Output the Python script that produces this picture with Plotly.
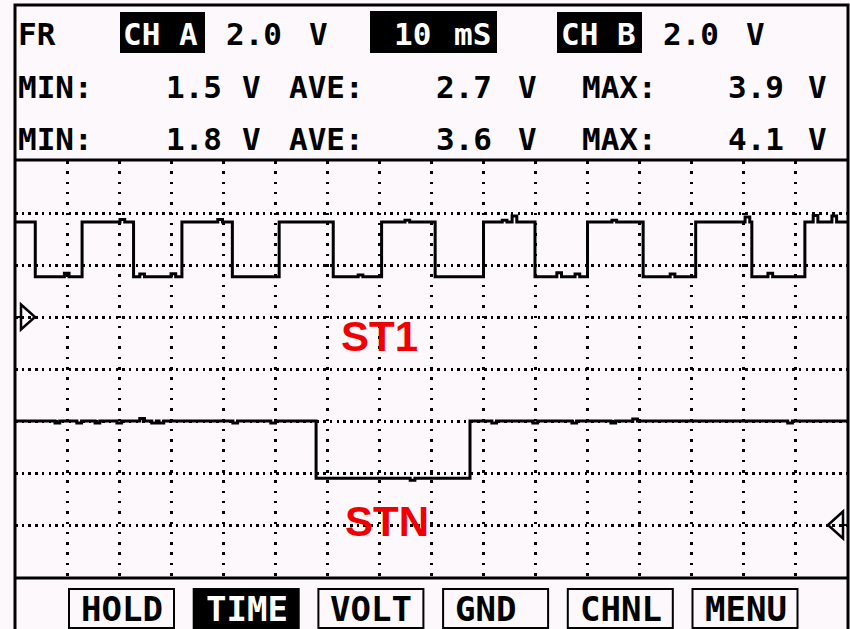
"""
plot.py — scope capture: CH A square wave (ST1) and CH B single pulse (STN).
"""
import plotly.graph_objects as go

# ── Data ─────────────────────────────────────────────────────────────────────
# time base 10 mS/div, 16 divisions; both channels 2.0 V/div
T_END = 160.0

# CH A (ST1): edge times in ms, starts high
A_EDGES = [3.9, 12.9, 22.8, 32.1, 41.8, 50.8, 61.2, 70.5,
           80.8, 90.1, 100.0, 110.1, 120.8, 130.9, 141.7, 151.9]
A_HIGH, A_LOW = 3.65, 1.55
A_GLITCH_T = [9.5, 20.2, 24.0, 30.0, 39.0, 66.0, 75.0, 93.7, 95.6,
              104.2, 107.7, 114.8, 126.0, 140.4, 144.8, 153.5, 157.1]
A_GLITCH_V = [1.68, 3.75, 1.65, 1.66, 3.75, 1.62, 3.72, 3.72, 3.88,
              1.70, 1.65, 3.72, 1.65, 3.85, 1.68, 3.90, 3.88]

# CH B (STN): starts high, one low pulse
B_EDGES = [57.9, 87.5]
B_HIGH, B_LOW = 4.0, 1.8
B_GLITCH_T = [7.7, 11.9, 15.4, 19.6, 24.0, 26.3, 27.7, 41.9, 49.2,
              76.0, 91.7, 99.6, 107.1, 114.6, 118.8, 148.6]
B_GLITCH_V = [3.92, 3.92, 3.92, 3.92, 4.10, 3.92, 3.92, 3.92, 3.92,
              1.72, 3.92, 3.92, 3.92, 3.92, 4.08, 3.92]

CH_A_STATS = [1.5, 2.7, 3.9]   # MIN, AVE, MAX
CH_B_STATS = [1.8, 3.6, 4.1]
VOLTS_DIV = [2.0, 2.0]
GROUND_V = 0.0
TIME_DIV = "10 mS"
BUTTONS = ["HOLD", "TIME", "VOLT", "GND", "CHNL", "MENU"]
ACTIVE_BUTTON = "TIME"

# ── Style ────────────────────────────────────────────────────────────────────
W, H = 850, 629
BG = "#FCF8FC"
INK = "#000000"
LCD_FONT = "DejaVu Sans Mono"


def px(x):
    return x / W


def py(y):
    return 1 - y / H


def level_at(t, edges, hi, lo):
    n = sum(1 for e in edges if e <= t)
    return hi if n % 2 == 0 else lo


def build_wave(edges, hi, lo, g_t, g_v, width=0.9):
    pts = [(0.0, hi)]
    for i, e in enumerate(edges):
        pts.append((e, lo if i % 2 == 0 else hi))
    for t, v in zip(g_t, g_v):
        pts.append((t, v))
        pts.append((t + width, level_at(t, edges, hi, lo)))
    pts.sort(key=lambda p: p[0])
    pts.append((T_END, level_at(T_END, edges, hi, lo)))
    return [p[0] for p in pts], [p[1] for p in pts]


ta, va = build_wave(A_EDGES, A_HIGH, A_LOW, A_GLITCH_T, A_GLITCH_V)
tb, vb = build_wave(B_EDGES, B_HIGH, B_LOW, B_GLITCH_T, B_GLITCH_V)

fig = go.Figure()
fig.add_trace(go.Scatter(x=ta, y=va, mode="lines", line_shape="hv",
                         line=dict(color=INK, width=3), yaxis="y",
                         hoverinfo="skip"))
fig.add_trace(go.Scatter(x=tb, y=vb, mode="lines", line_shape="hv",
                         line=dict(color=INK, width=3), yaxis="y2",
                         hoverinfo="skip"))

shapes = []
# outer frame and separators
shapes.append(dict(type="rect", xref="paper", yref="paper",
                   x0=px(15), x1=px(848), y0=py(640), y1=py(5),
                   line=dict(color=INK, width=3)))
for yy in (160, 578):
    shapes.append(dict(type="line", xref="paper", yref="paper",
                       x0=px(15), x1=px(848), y0=py(yy), y1=py(yy),
                       line=dict(color=INK, width=3)))

# ground reference markers: ▷ for CH A on the left, ◁ for CH B on the right
g = GROUND_V
shapes.append(dict(type="path", xref="paper", yref="y",
                   path=f"M {px(21)},{g + 0.48} L {px(35)},{g} L {px(21)},{g - 0.48} Z",
                   line=dict(color=INK, width=2.5)))
shapes.append(dict(type="line", xref="paper", yref="y", x0=px(15), x1=px(21),
                   y0=g, y1=g, line=dict(color=INK, width=2)))
shapes.append(dict(type="path", xref="paper", yref="y2",
                   path=f"M {px(843)},{g + 0.52} L {px(828)},{g} L {px(843)},{g - 0.52} Z",
                   line=dict(color=INK, width=2.5)))
shapes.append(dict(type="line", xref="paper", yref="y2", x0=px(843), x1=px(847),
                   y0=g, y1=g, line=dict(color=INK, width=2)))

annotations = []


def lcd(text, x, y, size=31, color=INK, anchor="left"):
    annotations.append(dict(text=text, xref="paper", yref="paper",
                            x=px(x), y=py(y), xanchor=anchor, yanchor="middle",
                            showarrow=False, borderpad=0,
                            font=dict(family=LCD_FONT, size=size, color=color,
                                      weight="bold")))


def inverse_box(x0, x1, y0, y1):
    shapes.append(dict(type="rect", xref="paper", yref="paper",
                       x0=px(x0), x1=px(x1), y0=py(y1), y1=py(y0),
                       fillcolor=INK, line=dict(width=0), layer="below"))


# header row 1
ROW1, ROW2, ROW3 = 34, 87, 139
lcd("FR", 17, ROW1)
inverse_box(120, 205, 12, 53)
lcd("CH A", 122, ROW1, color="white")
lcd(f"{VOLTS_DIV[0]:.1f}", 225, ROW1)
lcd("V", 308, ROW1)
inverse_box(370, 497, 11, 53)
lcd(TIME_DIV.split()[0], 393, ROW1, color="white")
lcd(TIME_DIV.split()[1], 453, ROW1, color="white")
inverse_box(557, 642, 12, 53)
lcd("CH B", 560, ROW1, color="white")
lcd(f"{VOLTS_DIV[1]:.1f}", 662, ROW1)
lcd("V", 745, ROW1)

# stats rows
for row_y, stats in ((ROW2, CH_A_STATS), (ROW3, CH_B_STATS)):
    for label, val, lx, vx, ux in zip(["MIN:", "AVE:", "MAX:"], stats,
                                      [17, 288, 581], [165, 435, 727],
                                      [241, 517, 807]):
        lcd(label, lx, row_y)
        lcd(f"{val:.1f}", vx, row_y)
        lcd("V", ux, row_y)

# soft keys
for i, name in enumerate(BUTTONS):
    x0 = 69 + i * 124.7
    active = name == ACTIVE_BUTTON
    shapes.append(dict(type="rect", xref="paper", yref="paper",
                       x0=px(x0), x1=px(x0 + 105), y0=py(628), y1=py(589),
                       fillcolor=INK if active else BG,
                       line=dict(color=INK, width=2), layer="below"))
    lcd(name, x0 + 11, 609, size=34, color="white" if active else INK)

# channel labels
for text, cx, cy in (("ST1", 379, 336), ("STN", 387, 521)):
    annotations.append(dict(text=f"<b>{text}</b>", xref="paper", yref="paper",
                            x=px(cx), y=py(cy), xanchor="center",
                            yanchor="middle", showarrow=False,
                            font=dict(family="Liberation Sans", size=42,
                                      color="#F00000")))

fig.update_layout(
    width=W, height=H,
    margin=dict(l=0, r=0, t=0, b=0),
    paper_bgcolor=BG,
    plot_bgcolor=BG,
    showlegend=False,
    hovermode=False,
    xaxis=dict(domain=[px(15), px(847)], range=[0, T_END], dtick=10, tick0=0,
               showgrid=True, gridcolor=INK, gridwidth=2.5, griddash="2.5px,7.8px",
               zeroline=False, showticklabels=False, ticks="", fixedrange=True),
    yaxis=dict(domain=[py(577), py(161)], range=[-10, 6], dtick=2, tick0=0,
               showgrid=True, gridcolor=INK, gridwidth=2.5, griddash="2.5px,4.2px",
               zeroline=False, showticklabels=False, ticks="", fixedrange=True),
    yaxis2=dict(overlaying="y", range=[-2, 14], showgrid=False, zeroline=False,
                showticklabels=False, ticks="", fixedrange=True),
    shapes=shapes,
    annotations=annotations,
)

fig.write_html("out.html", config={"displayModeBar": False},
               post_script="document.body.style.margin='0';")
